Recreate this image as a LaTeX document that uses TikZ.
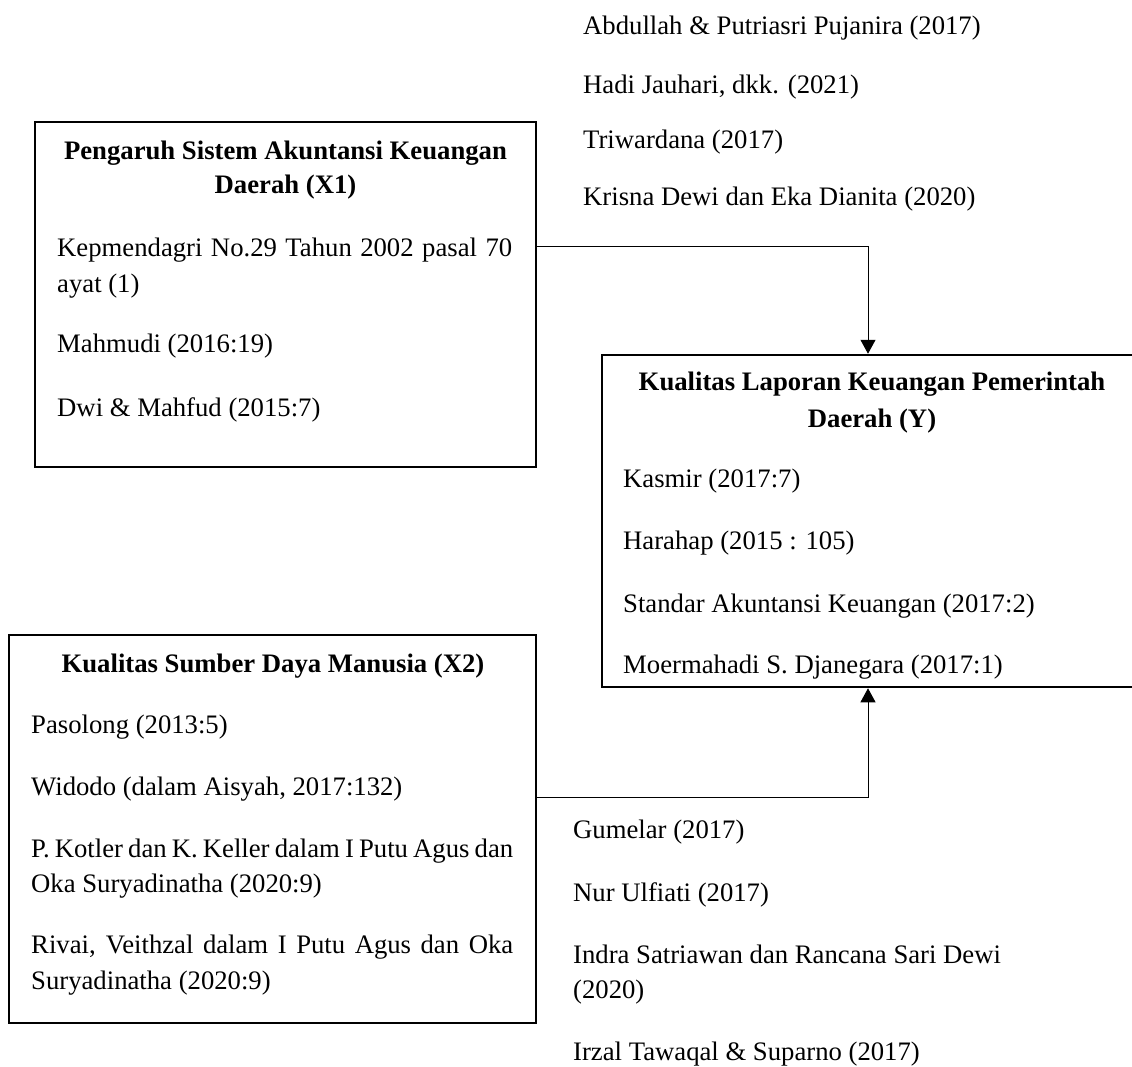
\documentclass[tikz,border=0pt]{standalone}
\usepackage{fontspec}
\setmainfont{Liberation Serif}
\usetikzlibrary{arrows.meta}
\begin{document}
\begin{tikzpicture}[x=1pt,y=-1pt,
  frame/.style={draw, line width=2.5pt, inner sep=0pt},
  txt/.style={anchor=base west, inner sep=0pt, font=\fontsize{26.7}{32}\selectfont},
  hd/.style={anchor=base, inner sep=0pt, font=\bfseries\fontsize{26.7}{32}\selectfont},
  conn/.style={line width=1pt, -{Triangle[width=15pt,length=14pt]}}]
\useasboundingbox (0,0) rectangle (1132,1066);
\clip (0,0) rectangle (1132,1066);
\fill[white] (0,0) rectangle (1132,1066);

% boxes
\node[frame, minimum width=501pt, minimum height=345pt] (x1) at (285.5,294.5) {};
\node[frame, minimum width=532pt, minimum height=332pt] (yb) at (868,521) {};
\node[frame, minimum width=527pt, minimum height=388pt] (x2) at (272.5,829) {};

% X1 contents
\node[hd] (x1h1) at (285.5,159) {Pengaruh Sistem Akuntansi Keuangan};
\node[hd] (x1h2) at (285.5,193) {Daerah (X1)};
\node[txt] (x1a) at (57,256) {\makebox[455pt][s]{Kepmendagri No.29 Tahun 2002 pasal 70}};
\node[txt] (x1b) at (57,292) {ayat (1)};
\node[txt] (x1c) at (57,352) {Mahmudi (2016:19)};
\node[txt] (x1d) at (57,416) {Dwi \& Mahfud (2015:7)};

% Y contents
\node[hd] (yh1) at (872,390) {Kualitas Laporan Keuangan Pemerintah};
\node[hd] (yh2) at (872,427) {Daerah (Y)};
\node[txt] (ya) at (623,487) {Kasmir (2017:7)};
\node[txt] (yb1) at (623,549) {Harahap (2015 : 105)};
\node[txt] (yc) at (623,612) {Standar Akuntansi Keuangan (2017:2)};
\node[txt] (yd) at (623,673) {Moermahadi S. Djanegara (2017:1)};

% X2 contents
\node[hd] (x2h) at (273,672) {Kualitas Sumber Daya Manusia (X2)};
\node[txt] (x2a) at (31,733) {Pasolong (2013:5)};
\node[txt] (x2b) at (31,795) {Widodo (dalam Aisyah, 2017:132)};
\node[txt] (x2c) at (31,857) {\makebox[482pt][s]{P. Kotler dan K. Keller dalam I Putu Agus dan}};
\node[txt] (x2d) at (31,892) {Oka Suryadinatha (2020:9)};
\node[txt] (x2e) at (31,953) {\makebox[482pt][s]{Rivai, Veithzal dalam I Putu Agus dan Oka}};
\node[txt] (x2f) at (31,989) {Suryadinatha (2020:9)};

% top references
\node[txt] (t1) at (583,34) {Abdullah \& Putriasri Pujanira (2017)};
\node[txt] (t2) at (583,93) {Hadi Jauhari, dkk. (2021)};
\node[txt] (t3) at (583,148) {Triwardana (2017)};
\node[txt] (t4) at (583,205) {Krisna Dewi dan Eka Dianita (2020)};

% bottom references
\node[txt] (b1) at (573,838) {Gumelar (2017)};
\node[txt] (b2) at (573,901) {Nur Ulfiati (2017)};
\node[txt] (b3) at (573,963) {Indra Satriawan dan Rancana Sari Dewi};
\node[txt] (b4) at (573,998) {(2020)};
\node[txt] (b5) at (573,1060) {Irzal Tawaqal \& Suparno (2017)};

% connectors
\coordinate (c1) at (868,246);
\coordinate (c2) at (868,797);
\draw[conn] (x1.east |- c1) -| (yb.north);
\draw[conn] (x2.east |- c2) -| (yb.south);
\end{tikzpicture}
\end{document}
